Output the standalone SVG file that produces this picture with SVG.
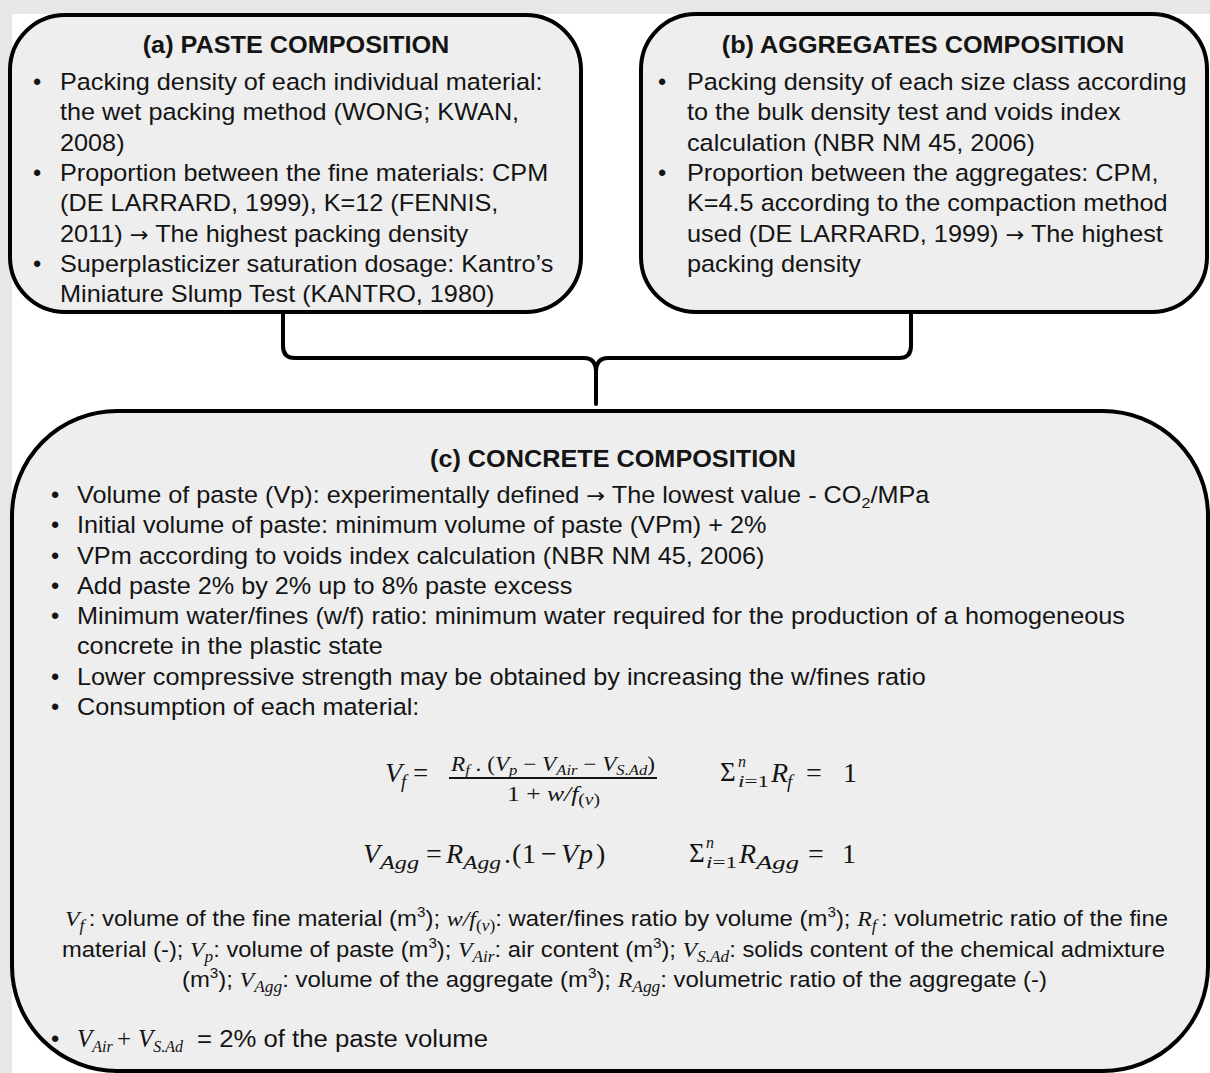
<svg xmlns="http://www.w3.org/2000/svg" width="1210" height="1073" viewBox="0 0 1210 1073">
<style>
.strip{fill:#e7e7e7}
.box{fill:#eeeeee;stroke:#000;stroke-width:4}
.conn{fill:none;stroke:#000;stroke-width:4;stroke-linecap:round;stroke-linejoin:round}
text{fill:#141414}
.h{font-family:"Liberation Sans",Arial,sans-serif;font-size:23.5px;font-weight:bold;text-anchor:middle}
.b{font-family:"Liberation Sans",Arial,sans-serif;font-size:23.5px}
.ar{font-family:"DejaVu Sans",sans-serif;font-size:21px}
.lg{font-family:"Liberation Sans",Arial,sans-serif;font-size:22px}
.m{font-family:"Liberation Serif","Times New Roman",serif;font-style:italic}
.u{font-family:"Liberation Serif","Times New Roman",serif;font-style:normal}
</style>
<rect width="1210" height="1073" fill="#ffffff"/>
<rect class="strip" x="0" y="0" width="1210" height="14"/>
<rect class="strip" x="0" y="0" width="12" height="1073"/>

<g id="connectors">
<path class="conn" d="M283,312 V346 Q283,358 295,358 H584 Q596,358 596,372 V404 M596,372 Q596,358 608,358 H899 Q911,358 911,346 V312"/>
</g>

<g id="node-a">
<rect class="box" x="10" y="15" width="571" height="297" rx="55"/>
<g transform="translate(296 0) scale(1.075 1)"><text class="h" x="0" y="53">(a) PASTE COMPOSITION</text></g>
<text class="b" x="33" y="90">•</text>
<text class="b" x="33" y="181">•</text>
<text class="b" x="33" y="272">•</text>
<g transform="translate(60 0) scale(1.075 1)">
<text class="b" x="0" y="90">Packing density of each individual material:</text>
<text class="b" x="0" y="120.5">the wet packing method (WONG; KWAN,</text>
<text class="b" x="0" y="151">2008)</text>
<text class="b" x="0" y="181">Proportion between the fine materials: CPM</text>
<text class="b" x="0" y="211.5">(DE LARRARD, 1999), K=12 (FENNIS,</text>
<text class="b" x="0" y="242">2011) <tspan class="ar">→</tspan> The highest packing density</text>
<text class="b" x="0" y="272">Superplasticizer saturation dosage: Kantro’s</text>
<text class="b" x="0" y="302">Miniature Slump Test (KANTRO, 1980)</text>
</g>
</g>

<g id="node-b">
<rect class="box" x="641" y="14" width="566" height="298" rx="55"/>
<g transform="translate(923 0) scale(1.075 1)"><text class="h" x="0" y="53">(b) AGGREGATES COMPOSITION</text></g>
<text class="b" x="658" y="90">•</text>
<text class="b" x="658" y="181">•</text>
<g transform="translate(687 0) scale(1.075 1)">
<text class="b" x="0" y="90">Packing density of each size class according</text>
<text class="b" x="0" y="120.5">to the bulk density test and voids index</text>
<text class="b" x="0" y="151">calculation (NBR NM 45, 2006)</text>
<text class="b" x="0" y="181">Proportion between the aggregates: CPM,</text>
<text class="b" x="0" y="211.5">K=4.5 according to the compaction method</text>
<text class="b" x="0" y="242">used (DE LARRARD, 1999) <tspan class="ar">→</tspan> The highest</text>
<text class="b" x="0" y="272">packing density</text>
</g>
</g>

<g id="node-c">
<rect class="box" x="12" y="411" width="1196" height="660" rx="105"/>
<g transform="translate(613 0) scale(1.075 1)"><text class="h" x="0" y="467">(c) CONCRETE COMPOSITION</text></g>
<text class="b" x="51" y="503">•</text>
<text class="b" x="51" y="533.3">•</text>
<text class="b" x="51" y="563.6">•</text>
<text class="b" x="51" y="593.9">•</text>
<text class="b" x="51" y="624.2">•</text>
<text class="b" x="51" y="684.8">•</text>
<text class="b" x="51" y="715.1">•</text>
<g transform="translate(77 0) scale(1.075 1)">
<text class="b" x="0" y="503">Volume of paste (Vp): experimentally defined <tspan class="ar">→</tspan> The lowest value - CO<tspan font-size="15" dy="5">2</tspan><tspan dy="-5">/MPa</tspan></text>
<text class="b" x="0" y="533.3">Initial volume of paste: minimum volume of paste (VPm) + 2%</text>
<text class="b" x="0" y="563.6">VPm according to voids index calculation (NBR NM 45, 2006)</text>
<text class="b" x="0" y="593.9">Add paste 2% by 2% up to 8% paste excess</text>
<text class="b" x="0" y="624.2">Minimum water/fines (w/f) ratio: minimum water required for the production of a homogeneous</text>
<text class="b" x="0" y="654.5">concrete in the plastic state</text>
<text class="b" x="0" y="684.8">Lower compressive strength may be obtained by increasing the w/fines ratio</text>
<text class="b" x="0" y="715.1">Consumption of each material:</text>
</g>

<g id="formula-1">
<text class="m" x="385" y="782" font-size="28">V</text>
<text class="m" x="401" y="788" font-size="19">f</text>
<text class="u" x="413" y="782" font-size="27">=</text>
<line x1="449" y1="778" x2="657" y2="778" stroke="#141414" stroke-width="2"/>
<text class="u" x="451" y="771" font-size="21" textLength="204" lengthAdjust="spacingAndGlyphs"><tspan class="m">R</tspan><tspan class="m" font-size="15" dy="4">f</tspan><tspan dy="-4"> . (</tspan><tspan class="m">V</tspan><tspan class="m" font-size="15" dy="4">p</tspan><tspan dy="-4"> − </tspan><tspan class="m">V</tspan><tspan class="m" font-size="15" dy="4">Air</tspan><tspan dy="-4"> − </tspan><tspan class="m">V</tspan><tspan class="m" font-size="15" dy="4">S.Ad</tspan><tspan dy="-4">)</tspan></text>
<text class="u" x="507" y="801" font-size="21" textLength="93" lengthAdjust="spacingAndGlyphs">1 + <tspan class="m">w/f</tspan><tspan font-size="16" dy="4">(<tspan class="m">v</tspan>)</tspan></text>
<text class="u" x="720" y="781" font-size="27">Σ</text>
<text class="m" x="738" y="767" font-size="16">n</text>
<text class="m" x="738" y="787" font-size="16" textLength="31" lengthAdjust="spacingAndGlyphs">i<tspan class="u">=1</tspan></text>
<text class="m" x="771" y="782" font-size="28">R</text>
<text class="m" x="787" y="788" font-size="19">f</text>
<text class="u" x="806" y="782" font-size="28">=</text>
<text class="u" x="843" y="782" font-size="28">1</text>
</g>

<g id="formula-2">
<text class="m" x="363" y="863" font-size="28">V</text>
<text class="m" x="380" y="869" font-size="19" textLength="39" lengthAdjust="spacingAndGlyphs">Agg</text>
<text class="u" x="426" y="863" font-size="28">=</text>
<text class="m" x="446" y="863" font-size="28">R</text>
<text class="m" x="463" y="869" font-size="19" textLength="38" lengthAdjust="spacingAndGlyphs">Agg</text>
<text class="u" x="504" y="863" font-size="28">.</text>
<text class="u" x="512" y="863" font-size="28">(</text>
<text class="u" x="522" y="863" font-size="28">1</text>
<text class="u" x="541" y="863" font-size="28">−</text>
<text class="m" x="561" y="863" font-size="28">V</text>
<text class="m" x="579" y="863" font-size="28">p</text>
<text class="u" x="596" y="863" font-size="28">)</text>
<text class="u" x="689" y="862" font-size="27">Σ</text>
<text class="m" x="706" y="848" font-size="16">n</text>
<text class="m" x="706" y="868" font-size="16" textLength="31" lengthAdjust="spacingAndGlyphs">i<tspan class="u">=1</tspan></text>
<text class="m" x="739" y="863" font-size="28">R</text>
<text class="m" x="756" y="869" font-size="19" textLength="43" lengthAdjust="spacingAndGlyphs">Agg</text>
<text class="u" x="808" y="863" font-size="28">=</text>
<text class="u" x="842" y="863" font-size="28">1</text>
</g>

<g id="legend">
<text class="lg" x="65" y="926" textLength="1103" lengthAdjust="spacingAndGlyphs"><tspan class="m">V</tspan><tspan class="m" font-size="16" dy="5">f </tspan><tspan dy="-5">: volume of the fine material (m</tspan><tspan font-size="14" dy="-9">3</tspan><tspan dy="9">); </tspan><tspan class="m">w/f</tspan><tspan class="u" font-size="16" dy="5">(<tspan class="m">v</tspan>)</tspan><tspan dy="-5">: water/fines ratio by volume (m</tspan><tspan font-size="14" dy="-9">3</tspan><tspan dy="9">); </tspan><tspan class="m">R</tspan><tspan class="m" font-size="16" dy="5">f </tspan><tspan dy="-5">: volumetric ratio of the fine</tspan></text>
<text class="lg" x="62" y="957" textLength="1103" lengthAdjust="spacingAndGlyphs">material (-); <tspan class="m">V</tspan><tspan class="m" font-size="16" dy="5">p</tspan><tspan dy="-5">: volume of paste (m</tspan><tspan font-size="14" dy="-9">3</tspan><tspan dy="9">); </tspan><tspan class="m">V</tspan><tspan class="m" font-size="16" dy="5">Air</tspan><tspan dy="-5">: air content (m</tspan><tspan font-size="14" dy="-9">3</tspan><tspan dy="9">); </tspan><tspan class="m">V</tspan><tspan class="m" font-size="16" dy="5">S.Ad</tspan><tspan dy="-5">: solids content of the chemical admixture</tspan></text>
<text class="lg" x="182" y="987" textLength="865" lengthAdjust="spacingAndGlyphs">(m<tspan font-size="14" dy="-9">3</tspan><tspan dy="9">); </tspan><tspan class="m">V</tspan><tspan class="m" font-size="16" dy="5">Agg</tspan><tspan dy="-5">: volume of the aggregate (m</tspan><tspan font-size="14" dy="-9">3</tspan><tspan dy="9">); </tspan><tspan class="m">R</tspan><tspan class="m" font-size="16" dy="5">Agg</tspan><tspan dy="-5">: volumetric ratio of the aggregate (-)</tspan></text>
</g>

<g id="last-bullet">
<text class="b" x="51" y="1047">•</text>
<text class="m" x="77" y="1047" font-size="25">V<tspan font-size="16" dy="5">Air</tspan></text>
<text class="u" x="117" y="1047" font-size="25">+</text>
<text class="m" x="138" y="1047" font-size="25">V<tspan font-size="16" dy="5">S.Ad</tspan></text>
<text class="b" x="197" y="1047" textLength="291" lengthAdjust="spacingAndGlyphs">= 2% of the paste volume</text>
</g>
</g>
</svg>
